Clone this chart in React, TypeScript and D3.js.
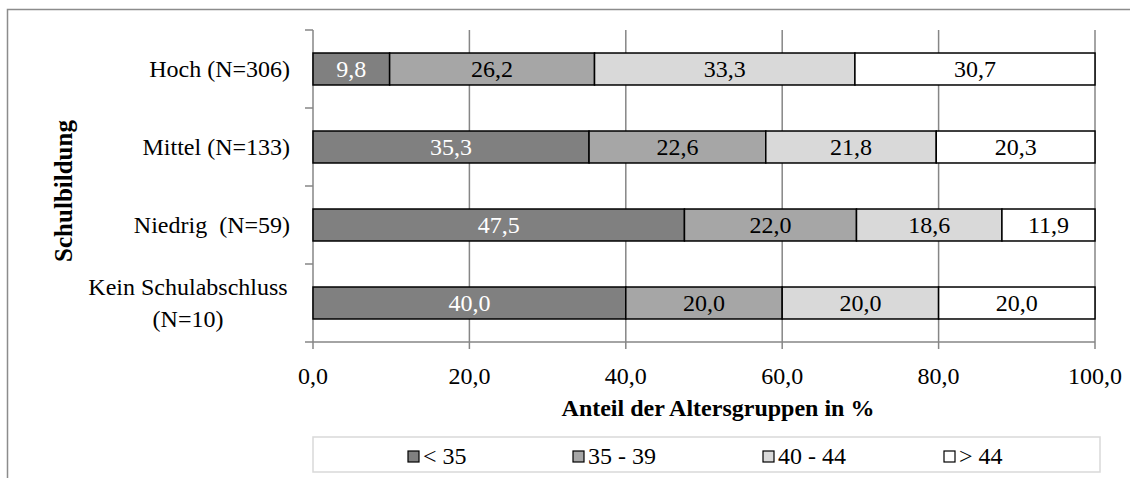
import React from "react";
import * as d3 from "d3";

const categories = ["Hoch (N=306)", "Mittel (N=133)", "Niedrig  (N=59)", "Kein Schulabschluss\n(N=10)"];
const seriesNames = ["< 35", "35 - 39", "40 - 44", "> 44"];
const lt35 = [9.8, 35.3, 47.5, 40.0];
const s35_39 = [26.2, 22.6, 22.0, 20.0];
const s40_44 = [33.3, 21.8, 18.6, 20.0];
const gt44 = [30.7, 20.3, 11.9, 20.0];
const xTicks = [0, 20, 40, 60, 80, 100];
const colors = ["#808080", "#a6a6a6", "#d9d9d9", "#ffffff"];
const labelColors = ["#ffffff", "#000000", "#000000", "#000000"];

const W = 1130;
const H = 478;
const FONT = "Liberation Serif";
const TS: React.CSSProperties = { fontFamily: "'Liberation Serif', 'Times New Roman', serif", whiteSpace: "pre" };

export default function App() {
  const series = [lt35, s35_39, s40_44, gt44];
  const x = d3.scaleLinear().domain([0, 100]).range([313, 1095]);
  const y = d3.scaleBand<string>().domain(categories).range([30, 342]).paddingInner(0.59).paddingOuter(0.295);
  const band = d3.scaleBand<string>().domain(categories).range([30, 342]);
  const fmt = (v: number) => d3.format(".1f")(v).replace(".", ",");

  const stackData = categories.map((c, i) => {
    const o: any = { cat: c };
    seriesNames.forEach((s, j) => (o[s] = series[j][i]));
    return o;
  });
  const stacked = d3.stack<any>().keys(seriesNames)(stackData);

  const legendX = [408, 573, 763, 944];
  const axisColor = "#868686";

  return (
    <svg width={W} height={H} fontFamily={FONT} style={{ position: "absolute", left: 0, top: 0, fontFamily: "'Liberation Serif', serif" }}>
      <rect x={0} y={0} width={W} height={H} fill="#fff" />
      {/* outer chart border */}
      <path d={`M7.5,${H} V9.5 H${W}`} fill="none" stroke="#8c8c8c" strokeWidth={1.5} />

      {/* gridlines */}
      {xTicks.slice(1).map((t) => (
        <line key={t} x1={x(t)} x2={x(t)} y1={30} y2={342} stroke={axisColor} strokeWidth={1.5} />
      ))}

      {/* y axis */}
      <line x1={x(0)} x2={x(0)} y1={30} y2={342} stroke={axisColor} strokeWidth={1.5} />
      {[...categories.map((c) => band(c)!), 342].map((v, i) => (
        <line key={i} x1={305} x2={x(0)} y1={v} y2={v} stroke={axisColor} strokeWidth={1.5} />
      ))}
      {/* x axis */}
      <line x1={x(0)} x2={x(100)} y1={342} y2={342} stroke={axisColor} strokeWidth={1.5} />
      {xTicks.map((t) => (
        <line key={t} x1={x(t)} x2={x(t)} y1={342} y2={349} stroke={axisColor} strokeWidth={1.5} />
      ))}
      {xTicks.map((t) => (
        <text key={t} x={x(t)} y={376} textAnchor="middle" dominantBaseline="central" fontSize={24} fontFamily={FONT} style={TS} fill="#000">
          {fmt(t)}
        </text>
      ))}

      {/* bars */}
      {stacked.map((layer, j) =>
        layer.map((d, i) => {
          const c = categories[i];
          const x0 = x(d[0]);
          const x1 = x(d[1]);
          const yy = y(c)!;
          const h = y.bandwidth();
          return (
            <g key={`${j}-${i}`}>
              <rect x={x0} y={yy} width={x1 - x0} height={h} fill={colors[j]} stroke="#000" strokeWidth={1.5} />
              <text
                x={(x0 + x1) / 2}
                y={yy + h / 2}
                textAnchor="middle"
                dominantBaseline="central"
                fontSize={24}
                fontFamily={FONT}
                style={TS}
                fill={labelColors[j]}
              >
                {fmt(series[j][i])}
              </text>
            </g>
          );
        })
      )}

      {/* category labels */}
      {categories.map((c) => {
        const cy = band(c)! + band.bandwidth() / 2;
        const lines = c.split("\n");
        if (lines.length === 1) {
          return (
            <text key={c} x={290} y={cy} textAnchor="end" dominantBaseline="central" fontSize={24} fontFamily={FONT} style={TS} fill="#000">
              {c}
            </text>
          );
        }
        return (
          <text key={c} x={188} textAnchor="middle" fontSize={24} fontFamily={FONT} style={TS} fill="#000">
            {lines.map((l, k) => (
              <tspan key={k} x={188} y={cy - 16 + k * 32} dominantBaseline="central" style={TS}>
                {l}
              </tspan>
            ))}
          </text>
        );
      })}

      {/* axis titles */}
      <text
        transform={`translate(63,${(30 + 342) / 2 + 5}) rotate(-90)`}
        textAnchor="middle"
        dominantBaseline="central"
        fontSize={25}
        fontFamily={FONT}
        style={TS}
        fontWeight="bold"
      >
        Schulbildung
      </text>
      <text x={718} y={408} textAnchor="middle" dominantBaseline="central" fontSize={24} fontFamily={FONT} style={TS} fontWeight="bold">
        Anteil der Altersgruppen in %
      </text>

      {/* legend */}
      <rect x={313} y={437} width={787} height={35} fill="#fff" stroke="#d9d9d9" strokeWidth={1.5} />
      {seriesNames.map((s, j) => (
        <g key={s}>
          <rect x={legendX[j]} y={451} width={11} height={11} fill={colors[j]} stroke="#000" strokeWidth={1.2} />
          <text x={legendX[j] + 15} y={456} dominantBaseline="central" fontSize={24} fontFamily={FONT} style={TS} fill="#000">
            {s}
          </text>
        </g>
      ))}
    </svg>
  );
}
